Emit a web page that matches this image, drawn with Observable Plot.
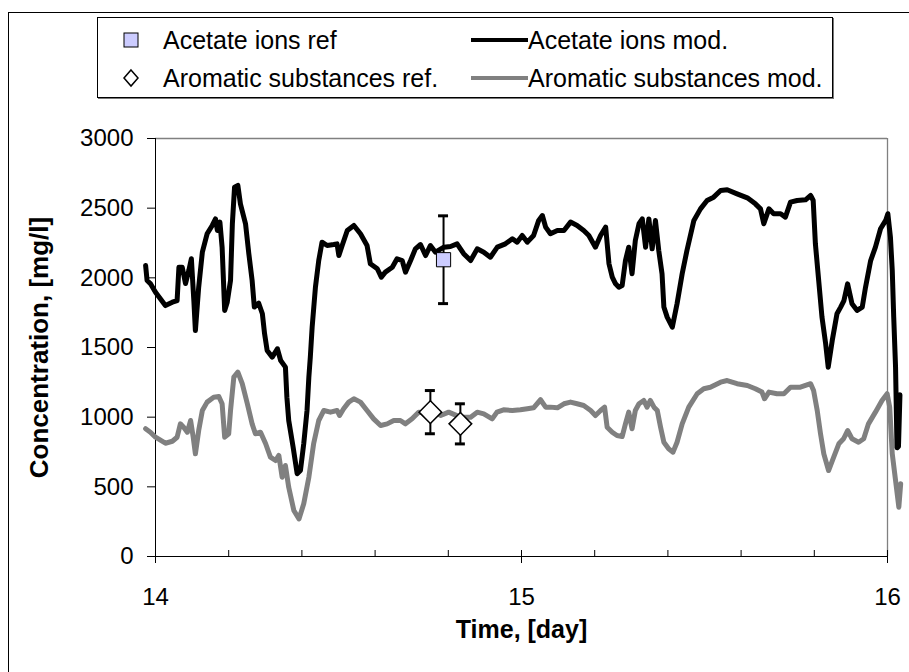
<!DOCTYPE html>
<html><head><meta charset="utf-8">
<script src="https://cdn.jsdelivr.net/npm/d3@7"></script>
<script src="https://cdn.jsdelivr.net/npm/@observablehq/plot@0.6"></script>
<style>
body{margin:0;background:#fff;width:909px;height:672px;overflow:hidden;position:relative;font-family:"Liberation Sans",Arial,sans-serif;}
#frame{position:absolute;left:8px;top:12px;width:1000px;height:1000px;border:1px solid #000;}
#chart{position:absolute;left:0;top:0;}
#legend{position:absolute;left:97px;top:17px;width:734px;height:79px;border:1px solid #000;box-shadow:1px 1px 0 #777;background:#fff;}
#legend svg{display:block}
</style></head><body>
<div id="frame"></div>
<div id="chart"></div>
<div id="legend"></div>
<script>
// ---- data ----
const seriesNames = ["Acetate ions ref", "Acetate ions mod.", "Aromatic substances ref.", "Aromatic substances mod."];
const xTicks = [14, 15, 16];
const minorTicks = [14.2, 14.4, 14.6, 14.8, 15.2, 15.4, 15.6, 15.8];
const yTicks = [0, 500, 1000, 1500, 2000, 2500, 3000];

const acetTime = [13.973,13.977,13.986,14.000,14.027,14.046,14.059,14.064,14.073,14.082,14.091,14.098,14.105,14.109,14.118,14.128,14.141,14.155,14.164,14.169,14.176,14.182,14.189,14.196,14.205,14.210,14.216,14.225,14.232,14.246,14.255,14.264,14.270,14.282,14.292,14.298,14.305,14.319,14.333,14.342,14.355,14.359,14.364,14.376,14.387,14.396,14.405,14.414,14.419,14.423,14.428,14.437,14.446,14.455,14.469,14.487,14.496,14.501,14.510,14.524,14.542,14.560,14.578,14.587,14.606,14.617,14.628,14.647,14.660,14.674,14.683,14.697,14.710,14.724,14.738,14.751,14.765,14.788,14.806,14.824,14.842,14.861,14.879,14.897,14.915,14.934,14.956,14.975,14.988,15.002,15.016,15.033,15.047,15.057,15.066,15.079,15.098,15.116,15.134,15.152,15.170,15.184,15.202,15.216,15.230,15.239,15.248,15.257,15.266,15.275,15.284,15.293,15.302,15.311,15.321,15.330,15.339,15.348,15.357,15.366,15.375,15.384,15.389,15.398,15.412,15.425,15.439,15.452,15.471,15.489,15.507,15.525,15.544,15.562,15.589,15.617,15.639,15.653,15.662,15.676,15.689,15.708,15.721,15.735,15.753,15.776,15.790,15.797,15.803,15.812,15.821,15.831,15.838,15.849,15.862,15.872,15.881,15.891,15.903,15.917,15.931,15.940,15.954,15.967,15.981,15.995,16.001,16.008,16.013,16.017,16.022,16.026,16.030,16.034];
const acetMod = [2089,1981,1959,1897,1801,1825,1837,2076,2076,1959,2053,2137,1825,1622,1933,2184,2316,2376,2423,2340,2400,2220,1766,1825,1981,2388,2651,2663,2531,2388,2173,1981,1790,1818,1742,1599,1479,1431,1491,1407,1359,1143,976,785,594,617,809,1048,1287,1431,1646,1933,2124,2256,2232,2239,2244,2160,2232,2340,2376,2316,2232,2101,2065,2005,2041,2076,2137,2124,2041,2124,2208,2239,2160,2232,2184,2220,2225,2244,2173,2124,2208,2184,2148,2220,2244,2280,2256,2304,2256,2304,2412,2447,2364,2316,2340,2340,2400,2376,2340,2304,2220,2304,2364,2101,2005,1957,1933,1945,2124,2220,2029,2268,2388,2423,2220,2423,2208,2412,2196,2029,1790,1718,1646,1814,2029,2196,2412,2495,2555,2579,2627,2632,2603,2574,2531,2495,2388,2495,2460,2460,2436,2543,2555,2560,2591,2555,2244,1981,1718,1527,1359,1550,1742,1790,1837,1957,1814,1766,1790,1933,2124,2220,2352,2412,2460,2292,2053,1718,1359,780,790,1160];

const aroTime = [13.973,13.986,14.000,14.027,14.046,14.059,14.068,14.077,14.087,14.096,14.103,14.109,14.118,14.128,14.141,14.159,14.173,14.182,14.189,14.200,14.205,14.214,14.225,14.237,14.251,14.264,14.273,14.287,14.301,14.314,14.328,14.337,14.346,14.355,14.364,14.378,14.392,14.405,14.419,14.432,14.446,14.460,14.478,14.496,14.503,14.514,14.528,14.542,14.560,14.578,14.596,14.615,14.633,14.651,14.669,14.683,14.701,14.719,14.738,14.760,14.779,14.801,14.833,14.861,14.879,14.897,14.920,14.933,14.951,14.975,14.997,15.016,15.033,15.052,15.066,15.079,15.098,15.116,15.134,15.152,15.170,15.189,15.202,15.216,15.227,15.234,15.248,15.261,15.275,15.284,15.293,15.302,15.311,15.321,15.334,15.343,15.352,15.362,15.371,15.380,15.389,15.402,15.414,15.425,15.439,15.457,15.480,15.498,15.516,15.544,15.562,15.589,15.617,15.639,15.657,15.664,15.676,15.698,15.717,15.735,15.762,15.790,15.798,15.808,15.817,15.826,15.839,15.853,15.867,15.880,15.891,15.903,15.921,15.935,15.948,15.967,15.985,15.999,16.006,16.013,16.022,16.031,16.036];
const aroMod = [917,892,856,813,827,856,952,928,892,976,856,737,904,1048,1108,1143,1148,1096,856,881,1048,1287,1323,1240,1096,952,881,892,809,713,689,725,569,653,497,330,270,378,569,809,976,1048,1036,1048,1012,1060,1108,1132,1108,1048,988,940,952,976,976,952,988,1036,1029,1048,1012,1036,1000,1000,1036,1024,988,1036,1053,1048,1053,1060,1067,1125,1072,1072,1067,1096,1108,1096,1084,1048,1012,1048,1072,928,892,868,861,952,1036,917,1048,1096,1120,1072,1120,1072,1048,928,820,773,749,820,952,1072,1168,1204,1215,1251,1263,1240,1227,1204,1180,1132,1180,1168,1168,1215,1215,1240,1192,1048,881,737,617,713,809,845,904,845,820,845,952,1036,1120,1168,1072,737,546,354,522];

const acetRefTime = [14.787];
const acetRefValue = [2130];
const acetRefErr = [315];
const aroRefTime = [14.751, 14.833];
const aroRefValue = [1036, 952];
const aroRefErr = [155, 144];

// ---- tables ----
const acet = acetTime.map((t, i) => ({t, v: acetMod[i]}));
const aro = aroTime.map((t, i) => ({t, v: aroMod[i]}));
const acetRef = acetRefTime.map((t, i) => ({t, v: acetRefValue[i], e: acetRefErr[i]}));
const aroRef = aroRefTime.map((t, i) => ({t, v: aroRefValue[i], e: aroRefErr[i]}));
const refs = acetRef.concat(aroRef);

const diamond = d3.symbolDiamond2 || "diamond2";

const chart = Plot.plot({
  width: 909, height: 672,
  marginLeft: 155, marginRight: 22, marginTop: 138, marginBottom: 116,
  style: {fontFamily: "'Liberation Sans', Arial, sans-serif", fontSize: "24px", color: "#000", background: "transparent", overflow: "visible"},
  x: {domain: [14, 16]},
  y: {domain: [0, 3000]},
  marks: [
    Plot.ruleY([3000], {stroke: "#808080", strokeWidth: 1.3}),
    Plot.ruleX([16], {stroke: "#808080", strokeWidth: 1.3}),
    Plot.axisY({ticks: yTicks, tickSize: 8, tickPadding: 14, label: null, tickFormat: d => String(d)}),
    Plot.axisX({ticks: xTicks, tickSize: 7, tickPadding: 24, label: null, tickFormat: d => String(d)}),
    Plot.ruleX(minorTicks, {insetTop: 412}),
    Plot.ruleX(xTicks, {insetTop: 412}),
    Plot.ruleX([14], {stroke: "#000"}),
    Plot.ruleY([0], {stroke: "#000"}),
    Plot.line(aro, {x: "t", y: "v", stroke: "#808080", strokeWidth: 5, strokeLinejoin: "round"}),
    Plot.line(acet, {x: "t", y: "v", stroke: "#000", strokeWidth: 5, strokeLinejoin: "round"}),
    Plot.ruleX(refs, {x: "t", y1: d => d.v - d.e, y2: d => d.v + d.e, stroke: "#000", strokeWidth: 2}),
    Plot.ruleY(refs, {y: d => d.v - d.e, x1: "t", x2: "t", insetLeft: -5, insetRight: -5, stroke: "#000", strokeWidth: 3}),
    Plot.ruleY(refs, {y: d => d.v + d.e, x1: "t", x2: "t", insetLeft: -5, insetRight: -5, stroke: "#000", strokeWidth: 3}),
    Plot.dot(acetRef, {x: "t", y: "v", symbol: "square", r: 8, fill: "#ccccff", stroke: "#000", strokeWidth: 1}),
    Plot.dot(aroRef, {x: "t", y: "v", symbol: diamond, r: 10.2, fill: "#fff", stroke: "#000", strokeWidth: 1.5}),
    Plot.text(["Time, [day]"], {frameAnchor: "bottom", dy: 81, fontWeight: "bold", fontSize: 25}),
    Plot.text(["Concentration, [mg/l]"], {frameAnchor: "left", textAnchor: "middle", dx: -116, rotate: -90, fontWeight: "bold", fontSize: 26})
  ]
});
document.getElementById("chart").appendChild(chart);

// ---- legend ----
const leg = d3.select("#legend").append("svg").attr("width", 734).attr("height", 79)
  .style("font-family", "'Liberation Sans', Arial, sans-serif").style("font-size", "25px");
leg.append("rect").attr("x", 26).attr("y", 15).attr("width", 14).attr("height", 14)
  .attr("fill", "#ccccff").attr("stroke", "#000").attr("stroke-width", 1);
leg.append("path").attr("d", "M33,52 L40,60 L33,68 L26,60 Z").attr("fill", "#fff").attr("stroke", "#000").attr("stroke-width", 1.5);
leg.append("line").attr("x1", 373).attr("x2", 430).attr("y1", 22).attr("y2", 22).attr("stroke", "#000").attr("stroke-width", 4);
leg.append("line").attr("x1", 373).attr("x2", 430).attr("y1", 60).attr("y2", 60).attr("stroke", "#808080").attr("stroke-width", 4);
const pos = [[65, 22], [430, 22], [65, 60], [430, 60]];
seriesNames.forEach((name, i) => {
  leg.append("text").attr("x", pos[i][0]).attr("y", pos[i][1]).attr("dy", "0.35em").text(name);
});
</script>
</body></html>
